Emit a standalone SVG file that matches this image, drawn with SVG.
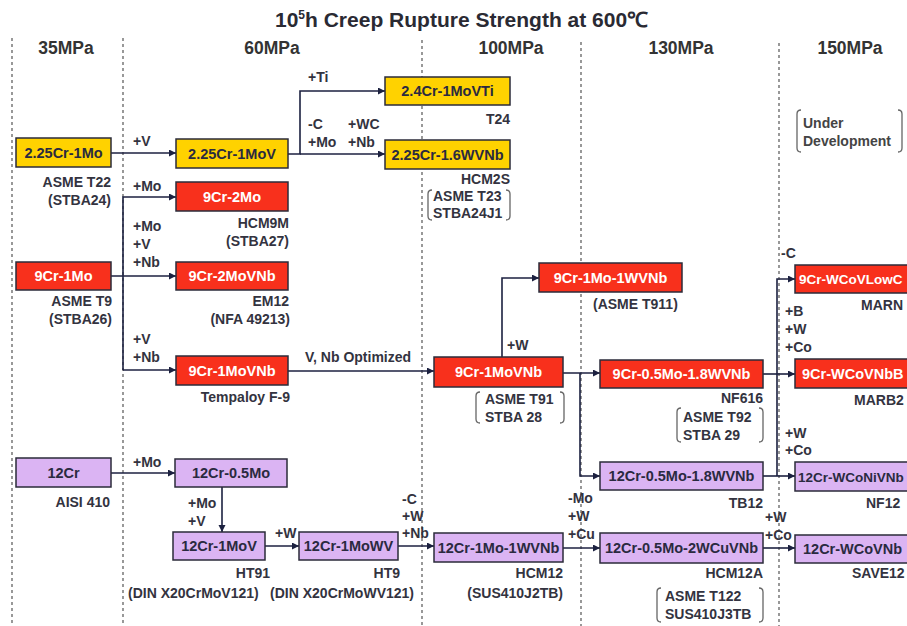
<svg xmlns="http://www.w3.org/2000/svg" width="907" height="626" viewBox="0 0 907 626">
<style>
  text { font-family: "Liberation Sans", Arial, sans-serif; font-weight: bold; }
  .title { font-size: 21px; fill: #2a2a33; }
  .hdr { font-size: 17.5px; fill: #333; text-anchor: middle; }
  .bx { stroke: #2b2b3a; stroke-width: 1.5; }
  .y { fill: #ffd200; }
  .r { fill: #f8301c; }
  .p { fill: #dbb4f3; }
  .bt { font-size: 14.5px; text-anchor: middle; }
  .dk { fill: #2a2a40; }
  .wt { fill: #ffffff; }
  .lb { font-size: 14px; fill: #333340; }
  .e { text-anchor: end; }
  .m { text-anchor: middle; }
  .dash { stroke: #555; stroke-width: 1.2; stroke-dasharray: 3 3; fill: none; }
  .cn { stroke: #1c2140; stroke-width: 1.6; fill: none; }
  .brk { stroke: #666; stroke-width: 1.3; fill: none; }
</style>
<defs>
  <marker id="ar" markerUnits="userSpaceOnUse" markerWidth="8" markerHeight="8" refX="7" refY="3.5" orient="auto">
    <path d="M0,0 L7,3.5 L0,7 z" fill="#1c2140"/>
  </marker>
</defs>
<rect width="907" height="626" fill="#ffffff"/>

<!-- title -->
<text class="title" x="275" y="27">10<tspan font-size="12" dy="-8">5</tspan><tspan dy="8">h Creep Rupture Strength at 600℃</tspan></text>

<!-- headers -->
<g id="headers">
  <text class="hdr" x="66" y="54">35MPa</text>
  <text class="hdr" x="272" y="54">60MPa</text>
  <text class="hdr" x="511" y="54">100MPa</text>
  <text class="hdr" x="681" y="54">130MPa</text>
  <text class="hdr" x="850" y="54">150MPa</text>
</g>

<!-- dashed column separators -->
<g id="separators">
  <line class="dash" x1="12" y1="38" x2="12" y2="626"/>
  <line class="dash" x1="123" y1="38" x2="123" y2="626"/>
  <line class="dash" x1="422" y1="40" x2="422" y2="626"/>
  <line class="dash" x1="581" y1="42" x2="581" y2="626"/>
  <line class="dash" x1="779" y1="43" x2="779" y2="626"/>
</g>

<!-- connectors -->
<g id="connectors">
  <path class="cn" d="M111,153 H176" marker-end="url(#ar)"/>
  <path class="cn" d="M288,154 H300 V91 H385" marker-end="url(#ar)"/>
  <path class="cn" d="M300,154 H385" marker-end="url(#ar)"/>
  <path class="cn" d="M123,370 V197 H176" marker-end="url(#ar)"/>
  <path class="cn" d="M111,276 H176" marker-end="url(#ar)"/>
  <path class="cn" d="M123,370 H176" marker-end="url(#ar)"/>
  <path class="cn" d="M288,371 H434" marker-end="url(#ar)"/>
  <path class="cn" d="M502,357 V278 H539" marker-end="url(#ar)"/>
  <path class="cn" d="M563,373 H600" marker-end="url(#ar)"/>
  <path class="cn" d="M580,373 V476 H600" marker-end="url(#ar)"/>
  <path class="cn" d="M763,374 H795" marker-end="url(#ar)"/>
  <path class="cn" d="M777,476 V279 H795" marker-end="url(#ar)"/>
  <path class="cn" d="M763,476 H795" marker-end="url(#ar)"/>
  <path class="cn" d="M111,473 H175" marker-end="url(#ar)"/>
  <path class="cn" d="M222,487 V532" marker-end="url(#ar)"/>
  <path class="cn" d="M265,546 H299" marker-end="url(#ar)"/>
  <path class="cn" d="M398,546 H434" marker-end="url(#ar)"/>
  <path class="cn" d="M563,548 H600" marker-end="url(#ar)"/>
  <path class="cn" d="M763,548 H795" marker-end="url(#ar)"/>

  <!-- connector labels -->
  <text class="lb" x="133" y="146">+V</text>
  <text class="lb" x="308" y="82">+Ti</text>
  <text class="lb" x="308" y="129">-C</text>
  <text class="lb" x="308" y="147">+Mo</text>
  <text class="lb" x="348" y="129">+WC</text>
  <text class="lb" x="348" y="147">+Nb</text>
  <text class="lb" x="133" y="191">+Mo</text>
  <text class="lb" x="133" y="231">+Mo</text>
  <text class="lb" x="133" y="249">+V</text>
  <text class="lb" x="133" y="267">+Nb</text>
  <text class="lb" x="133" y="344">+V</text>
  <text class="lb" x="133" y="362">+Nb</text>
  <text class="lb" x="305" y="362">V, Nb Optimized</text>
  <text class="lb" x="507" y="350">+W</text>
  <text class="lb" x="781" y="258">-C</text>
  <text class="lb" x="785" y="316">+B</text>
  <text class="lb" x="785" y="334">+W</text>
  <text class="lb" x="785" y="352">+Co</text>
  <text class="lb" x="785" y="438">+W</text>
  <text class="lb" x="785" y="455">+Co</text>
  <text class="lb" x="133" y="467">+Mo</text>
  <text class="lb" x="188" y="508">+Mo</text>
  <text class="lb" x="188" y="526">+V</text>
  <text class="lb" x="275" y="538">+W</text>
  <text class="lb" x="402" y="504">-C</text>
  <text class="lb" x="402" y="521">+W</text>
  <text class="lb" x="402" y="538">+Nb</text>
  <text class="lb" x="568" y="503">-Mo</text>
  <text class="lb" x="568" y="521">+W</text>
  <text class="lb" x="568" y="539">+Cu</text>
  <text class="lb" x="765" y="522">+W</text>
  <text class="lb" x="765" y="540">+Co</text>
</g>

<!-- nodes -->
<g id="n-225Cr1Mo">
  <rect class="bx y" x="16" y="138" width="95" height="29"/>
  <text class="bt dk" x="63.5" y="158">2.25Cr-1Mo</text>
  <text class="lb e" x="111" y="187">ASME T22</text>
  <text class="lb e" x="111" y="205">(STBA24)</text>
</g>
<g id="n-225Cr1MoV">
  <rect class="bx y" x="176" y="139" width="112" height="29"/>
  <text class="bt dk" x="232" y="159">2.25Cr-1MoV</text>
</g>
<g id="n-24Cr1MoVTi">
  <rect class="bx y" x="385" y="77" width="125" height="28"/>
  <text class="bt dk" x="447.5" y="96">2.4Cr-1MoVTi</text>
  <text class="lb e" x="510" y="124">T24</text>
</g>
<g id="n-225Cr16WVNb">
  <rect class="bx y" x="385" y="140" width="125" height="29"/>
  <text class="bt dk" x="447.5" y="160">2.25Cr-1.6WVNb</text>
  <text class="lb e" x="510" y="184">HCM2S</text>
  <path class="brk" d="M432,190 Q428,190 428,194 L428,216 Q428,220 432,220"/>
  <path class="brk" d="M506,190 Q510,190 510,194 L510,216 Q510,220 506,220"/>
  <text class="lb" x="433" y="201">ASME T23</text>
  <text class="lb" x="433" y="218">STBA24J1</text>
</g>
<g id="n-underdev">
  <path class="brk" d="M801,110 Q797,110 797,114 L797,148 Q797,152 801,152"/>
  <path class="brk" d="M898,110 Q902,110 902,114 L902,148 Q902,152 898,152"/>
  <text class="lb" x="803" y="128" style="fill:#444">Under</text>
  <text class="lb" x="803" y="146" style="fill:#444">Development</text>
</g>
<g id="n-9Cr2Mo">
  <rect class="bx r" x="176" y="182" width="112" height="29"/>
  <text class="bt wt" x="232" y="202">9Cr-2Mo</text>
  <text class="lb e" x="289" y="228">HCM9M</text>
  <text class="lb e" x="289" y="246">(STBA27)</text>
</g>
<g id="n-9Cr1Mo">
  <rect class="bx r" x="16" y="262" width="95" height="28"/>
  <text class="bt wt" x="63.5" y="281">9Cr-1Mo</text>
  <text class="lb e" x="112" y="306">ASME T9</text>
  <text class="lb e" x="112" y="324">(STBA26)</text>
</g>
<g id="n-9Cr2MoVNb">
  <rect class="bx r" x="176" y="262" width="112" height="28"/>
  <text class="bt wt" x="232" y="281">9Cr-2MoVNb</text>
  <text class="lb e" x="289" y="306">EM12</text>
  <text class="lb e" x="290" y="324">(NFA 49213)</text>
</g>
<g id="n-9Cr1MoVNb-F9">
  <rect class="bx r" x="176" y="356" width="112" height="29"/>
  <text class="bt wt" x="232" y="376">9Cr-1MoVNb</text>
  <text class="lb e" x="290" y="402">Tempaloy F-9</text>
</g>
<g id="n-9Cr1MoVNb-T91">
  <rect class="bx r" x="434" y="357" width="129" height="30"/>
  <text class="bt wt" x="498.5" y="377">9Cr-1MoVNb</text>
  <path class="brk" d="M480,392 Q476,392 476,396 L476,419 Q476,423 480,423"/>
  <path class="brk" d="M560,392 Q564,392 564,396 L564,419 Q564,423 560,423"/>
  <text class="lb" x="485" y="404">ASME T91</text>
  <text class="lb" x="485" y="422">STBA 28</text>
</g>
<g id="n-9Cr1Mo1WVNb">
  <rect class="bx r" x="539" y="263" width="143" height="29"/>
  <text class="bt wt" x="610.5" y="283">9Cr-1Mo-1WVNb</text>
  <text class="lb" x="593" y="309">(ASME T911)</text>
</g>
<g id="n-9Cr05Mo18WVNb">
  <rect class="bx r" x="600" y="360" width="163" height="28"/>
  <text class="bt wt" x="681.5" y="379">9Cr-0.5Mo-1.8WVNb</text>
  <text class="lb e" x="763" y="403">NF616</text>
  <path class="brk" d="M681,408 Q677,408 677,412 L677,438 Q677,442 681,442"/>
  <path class="brk" d="M759,408 Q763,408 763,412 L763,438 Q763,442 759,442"/>
  <text class="lb" x="683" y="422">ASME T92</text>
  <text class="lb" x="683" y="440">STBA 29</text>
</g>
<g id="n-9CrWCoVLowC">
  <rect class="bx r" x="795" y="265" width="140" height="28"/>
  <text class="bt wt" x="799" y="284" style="text-anchor:start;font-size:13.5px">9Cr-WCoVLowC</text>
  <text class="lb" x="861" y="310">MARN</text>
</g>
<g id="n-9CrWCoVNbB">
  <rect class="bx r" x="795" y="359" width="140" height="29"/>
  <text class="bt wt" x="802" y="379" style="text-anchor:start">9Cr-WCoVNbB</text>
  <text class="lb" x="854" y="405">MARB2</text>
</g>
<g id="n-12Cr">
  <rect class="bx p" x="16" y="458" width="95" height="29"/>
  <text class="bt dk" x="63.5" y="478">12Cr</text>
  <text class="lb e" x="110" y="507">AISI 410</text>
</g>
<g id="n-12Cr05Mo">
  <rect class="bx p" x="175" y="459" width="112" height="28"/>
  <text class="bt dk" x="231" y="478">12Cr-0.5Mo</text>
</g>
<g id="n-12Cr1MoV">
  <rect class="bx p" x="173" y="532" width="92" height="28"/>
  <text class="bt dk" x="219" y="551">12Cr-1MoV</text>
  <text class="lb e" x="270" y="578">HT91</text>
  <text class="lb" x="128" y="598">(DIN X20CrMoV121)</text>
</g>
<g id="n-12Cr1MoWV">
  <rect class="bx p" x="299" y="532" width="99" height="28"/>
  <text class="bt dk" x="348.5" y="551">12Cr-1MoWV</text>
  <text class="lb e" x="400" y="578">HT9</text>
  <text class="lb e" x="414" y="598">(DIN X20CrMoWV121)</text>
</g>
<g id="n-12Cr1Mo1WVNb">
  <rect class="bx p" x="434" y="533" width="129" height="29"/>
  <text class="bt dk" x="498.5" y="553">12Cr-1Mo-1WVNb</text>
  <text class="lb e" x="563" y="578">HCM12</text>
  <text class="lb e" x="563" y="598">(SUS410J2TB)</text>
</g>
<g id="n-12Cr05Mo18WVNb">
  <rect class="bx p" x="600" y="462" width="163" height="28"/>
  <text class="bt dk" x="681.5" y="481">12Cr-0.5Mo-1.8WVNb</text>
  <text class="lb e" x="763" y="508">TB12</text>
</g>
<g id="n-12Cr05Mo2WCuVNb">
  <rect class="bx p" x="600" y="533" width="163" height="30"/>
  <text class="bt dk" x="681.5" y="553">12Cr-0.5Mo-2WCuVNb</text>
  <text class="lb e" x="763" y="578">HCM12A</text>
  <path class="brk" d="M661,588 Q657,588 657,592 L657,618 Q657,622 661,622"/>
  <path class="brk" d="M759,588 Q763,588 763,592 L763,618 Q763,622 759,622"/>
  <text class="lb" x="665" y="601">ASME T122</text>
  <text class="lb" x="665" y="619">SUS410J3TB</text>
</g>
<g id="n-12CrWCoNiVNb">
  <rect class="bx p" x="795" y="462" width="140" height="29"/>
  <text class="bt dk" x="798" y="482" style="text-anchor:start;font-size:13.5px">12Cr-WCoNiVNb</text>
  <text class="lb" x="866" y="508">NF12</text>
</g>
<g id="n-12CrWCoVNb">
  <rect class="bx p" x="795" y="535" width="140" height="28"/>
  <text class="bt dk" x="803" y="554" style="text-anchor:start">12Cr-WCoVNb</text>
  <text class="lb" x="852" y="578">SAVE12</text>
</g>
</svg>
